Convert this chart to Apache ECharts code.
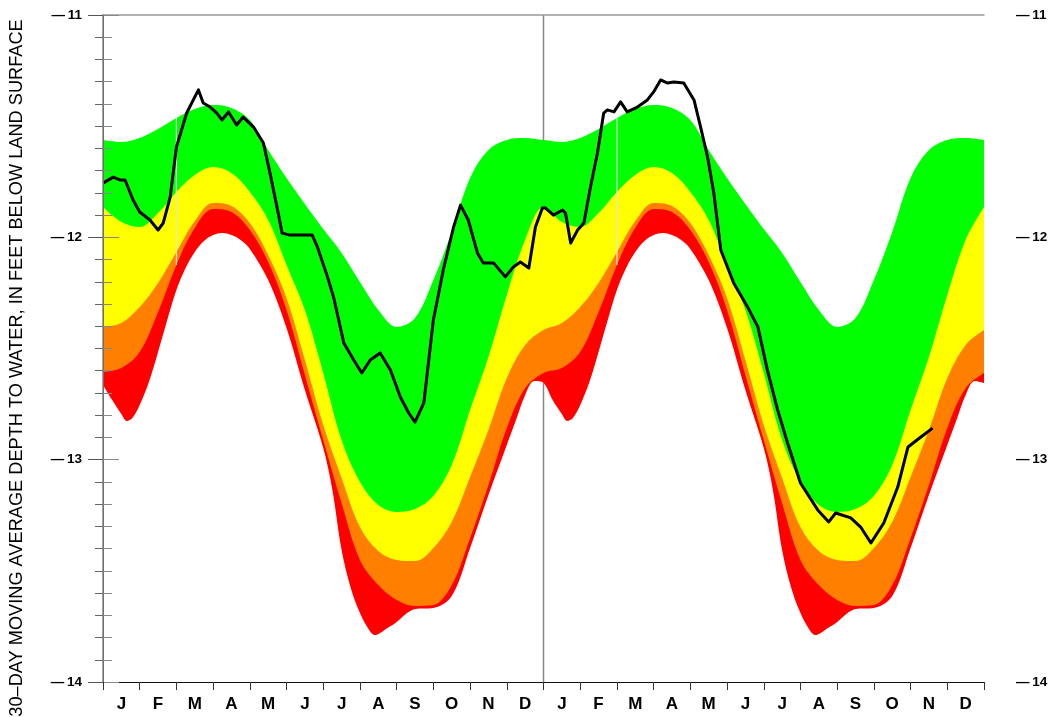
<!DOCTYPE html>
<html>
<head>
<meta charset="utf-8">
<script src="https://cdn.jsdelivr.net/npm/echarts@6/dist/echarts.min.js"></script>
<style>html,body{margin:0;padding:0;background:#fff}#c{width:1048px;height:717px}</style>
</head>
<body>
<div id="c"></div>
<script>
// ---- data (months since Jan 1 of the year; depths in feet, negative = below land surface)
const MONTHS = ['J','F','M','A','M','J','J','A','S','O','N','D'];
const monthLabels = MONTHS.concat(MONTHS);
const yTicks = [-14, -13, -12, -11];
const yearLabels = ['2000', '2001'];
const yTitle = '30\u2013DAY MOVING AVERAGE DEPTH TO WATER, IN FEET BELOW LAND SURFACE';

// percentile band boundaries (same climatology for both years)
const bandMonth = [0,0.5,1,1.5,2,2.5,3,3.5,4,4.5,5,5.5,6,6.5,7,7.5,8,8.5,9,9.5,10,10.5,11,11.5,12];
const greenTop  = [-11.562,-11.571,-11.553,-11.513,-11.463,-11.423,-11.405,-11.418,-11.472,-11.607,-11.733,-11.850,-11.963,-12.070,-12.201,-12.327,-12.403,-12.363,-12.192,-11.976,-11.733,-11.607,-11.562,-11.553,-11.562];
const yellowTop = [-11.864,-11.931,-11.954,-11.891,-11.796,-11.720,-11.684,-11.711,-11.796,-11.922,-12.124,-12.327,-12.610,-12.912,-13.100,-13.204,-13.235,-13.222,-13.163,-13.024,-12.777,-12.538,-12.259,-12.012,-11.864];
const orangeTop = [-12.403,-12.385,-12.313,-12.205,-12.066,-11.927,-11.846,-11.859,-11.936,-12.080,-12.273,-12.552,-12.844,-13.082,-13.303,-13.411,-13.451,-13.456,-13.397,-13.280,-13.078,-12.867,-12.633,-12.484,-12.417];
const redTop    = [-12.606,-12.588,-12.516,-12.336,-12.124,-11.958,-11.873,-11.886,-11.967,-12.111,-12.327,-12.619,-12.912,-13.195,-13.451,-13.564,-13.631,-13.658,-13.654,-13.564,-13.352,-13.114,-12.858,-12.678,-12.610];
const redBottomMonth = [0,0.25,0.5,0.65,0.8,1,1.25,1.5,1.75,2,2.25,2.5,2.75,3,3.25,3.5,3.75,4,4.5,5,5.5,6,6.25,6.5,6.75,7,7.25,7.4,7.75,8,8.25,8.5,9,9.5,10,10.5,11,11.25,11.5,11.75,12];
const redBottom = [-12.664,-12.732,-12.795,-12.826,-12.813,-12.754,-12.651,-12.516,-12.372,-12.237,-12.138,-12.066,-12.017,-11.990,-11.981,-11.990,-12.012,-12.052,-12.192,-12.408,-12.687,-12.948,-13.137,-13.406,-13.577,-13.690,-13.766,-13.789,-13.757,-13.730,-13.694,-13.672,-13.667,-13.613,-13.397,-13.159,-12.934,-12.822,-12.709,-12.646,-12.655];

// observed 30-day moving average (months since Jan 1 2000)
const obsMonth = [0,0.28,0.46,0.6,0.82,1.0,1.28,1.5,1.64,1.83,2.0,2.28,2.46,2.6,2.73,2.92,3.1,3.24,3.42,3.64,3.82,4.1,4.37,4.55,4.74,4.88,5.1,5.37,5.7,5.84,6.1,6.28,6.56,6.83,7.05,7.28,7.55,7.83,8.1,8.33,8.5,8.74,9.0,9.27,9.55,9.74,9.95,10.2,10.36,10.64,10.96,11.18,11.37,11.6,11.78,11.97,
  12.05,12.27,12.52,12.6,12.74,12.93,13.1,13.28,13.47,13.64,13.74,13.92,14.1,14.28,14.56,14.83,15.0,15.19,15.38,15.55,15.82,16.1,16.28,16.47,16.64,16.83,17.18,17.56,17.84,18.1,18.38,18.65,19.0,19.47,19.77,19.96,20.37,20.64,20.92,21.27,21.65,21.93,22.28,22.6];
const obsDepth = [-11.756,-11.729,-11.742,-11.742,-11.832,-11.886,-11.922,-11.967,-11.936,-11.819,-11.594,-11.441,-11.382,-11.337,-11.396,-11.414,-11.441,-11.472,-11.436,-11.495,-11.459,-11.504,-11.576,-11.711,-11.864,-11.981,-11.990,-11.990,-11.990,-12.043,-12.170,-12.268,-12.475,-12.552,-12.610,-12.552,-12.520,-12.597,-12.718,-12.790,-12.831,-12.745,-12.372,-12.147,-11.954,-11.855,-11.922,-12.070,-12.115,-12.115,-12.178,-12.133,-12.111,-12.138,-11.954,-11.868,
  -11.868,-11.900,-11.877,-11.891,-12.026,-11.967,-11.936,-11.774,-11.621,-11.441,-11.427,-11.436,-11.391,-11.436,-11.414,-11.382,-11.346,-11.292,-11.306,-11.301,-11.306,-11.382,-11.504,-11.639,-11.801,-12.057,-12.205,-12.313,-12.403,-12.597,-12.777,-12.925,-13.105,-13.226,-13.280,-13.240,-13.262,-13.303,-13.375,-13.285,-13.123,-12.943,-12.898,-12.858];

// ---- build
const Y_MIN = yTicks[0], Y_MAX = yTicks[yTicks.length - 1];
function yearPairs(ts, vs, off) { return ts.map((t, i) => [t + off, vs[i]]); }
function bothYears(ts, vs) { return yearPairs(ts, vs, 0).concat(yearPairs(ts, vs, 12).slice(1)); }
function band(name, ts, vs, color) {
  return { name, type: 'line', xAxisIndex: 1, yAxisIndex: 0, data: bothYears(ts, vs),
    smooth: 0.35, symbol: 'none', lineStyle: { width: 0 }, silent: true, z: 2,
    areaStyle: { color, opacity: 1, origin: 'start' } };
}
function seg(data, color, width, z) {
  return { type: 'line', xAxisIndex: 1, yAxisIndex: 0, data, symbol: 'none', silent: true, z,
    lineStyle: { color, width } };
}
const last = a => a[a.length - 1];
const leapIdx = bandMonth.indexOf(2);
const depthLabel = v => '\u2014\u2009' + Math.abs(v);

const chart = echarts.init(document.getElementById('c'), null, { renderer: 'canvas' });
const labelFont = { fontFamily: 'Liberation Sans', fontWeight: 'bold', color: '#000' };
chart.setOption({
  animation: false,
  backgroundColor: '#fff',
  grid: { left: 103, right: 64, top: 15, bottom: 35, containLabel: false, outerBoundsMode: 'none' },
  xAxis: [
    { type: 'category', data: monthLabels, boundaryGap: true, position: 'bottom', z: 10,
      axisLine: { lineStyle: { color: '#111', width: 1 } },
      axisTick: { show: true, length: 8, interval: 0, lineStyle: { color: '#333' } },
      axisLabel: Object.assign({ fontSize: 17, margin: 14, interval: 0 }, labelFont),
      splitLine: { show: false } },
    { type: 'value', min: 0, max: 24, show: false },
    { type: 'value', min: 0, max: 24, position: 'top', z: 10,
      axisLine: { show: true, lineStyle: { color: '#999', width: 1.5 } },
      axisTick: { show: false }, axisLabel: { show: false }, splitLine: { show: false } }
  ],
  yAxis: [
    { type: 'value', min: Y_MIN, max: Y_MAX, interval: 1, position: 'left', z: 10,
      axisLine: { show: true, lineStyle: { color: '#222', width: 1 } },
      axisTick: { show: true, length: 15, lineStyle: { color: '#555' } },
      minorTick: { show: true, splitNumber: 10, length: 8, lineStyle: { color: '#666' } },
      splitLine: { show: false },
      axisLabel: Object.assign({ fontSize: 13.5, margin: 21, formatter: depthLabel }, labelFont) },
    { type: 'value', min: Y_MIN, max: Y_MAX, interval: 1, position: 'right', z: 10,
      axisLine: { show: true, lineStyle: { color: '#888', width: 1.5 } },
      axisTick: { show: true, length: 16, lineStyle: { color: '#888' } },
      minorTick: { show: true, splitNumber: 10, length: 9, lineStyle: { color: '#888' } },
      splitLine: { show: false },
      axisLabel: Object.assign({ fontSize: 13.5, margin: 32, formatter: depthLabel }, labelFont) }
  ],
  series: [
    band('green', bandMonth, greenTop, '#00ff00'),
    band('yellow', bandMonth, yellowTop, '#ffff00'),
    band('orange', bandMonth, orangeTop, '#ff8000'),
    band('red', bandMonth, redTop, '#ff0000'),
    band('below', redBottomMonth, redBottom, '#ffffff'),
    seg([[12, Y_MAX], [12, last(greenTop)]], '#888', 1.5, 3),
    seg([[12, last(redBottom)], [12, Y_MIN]], '#888', 1.5, 3),
    seg([[2, greenTop[leapIdx]], [2, redTop[leapIdx]]], '#e4e4e4', 1.2, 3),
    seg([[14, greenTop[leapIdx]], [14, redTop[leapIdx]]], '#e4e4e4', 1.2, 3),
    { name: 'observed', type: 'line', xAxisIndex: 1, yAxisIndex: 0, z: 5, symbol: 'none', silent: true,
      data: obsMonth.map((t, i) => [t, obsDepth[i]]),
      lineStyle: { color: '#000', width: 3, join: 'round' } }
  ],
  graphic: [
    { type: 'text', x: 17, y: 368, rotation: Math.PI / 2,
      style: { text: yTitle, fontSize: 18.2, fontFamily: 'Liberation Sans', fill: '#000', align: 'center', verticalAlign: 'middle' } },
    { type: 'text', x: 304, y: 662, style: { text: yearLabels[0], fontSize: 22, fontFamily: 'Liberation Sans', fill: '#000', align: 'center', verticalAlign: 'middle' } },
    { type: 'text', x: 746, y: 662, style: { text: yearLabels[1], fontSize: 22, fontFamily: 'Liberation Sans', fill: '#000', align: 'center', verticalAlign: 'middle' } }
  ]
});
</script>
</body>
</html>
